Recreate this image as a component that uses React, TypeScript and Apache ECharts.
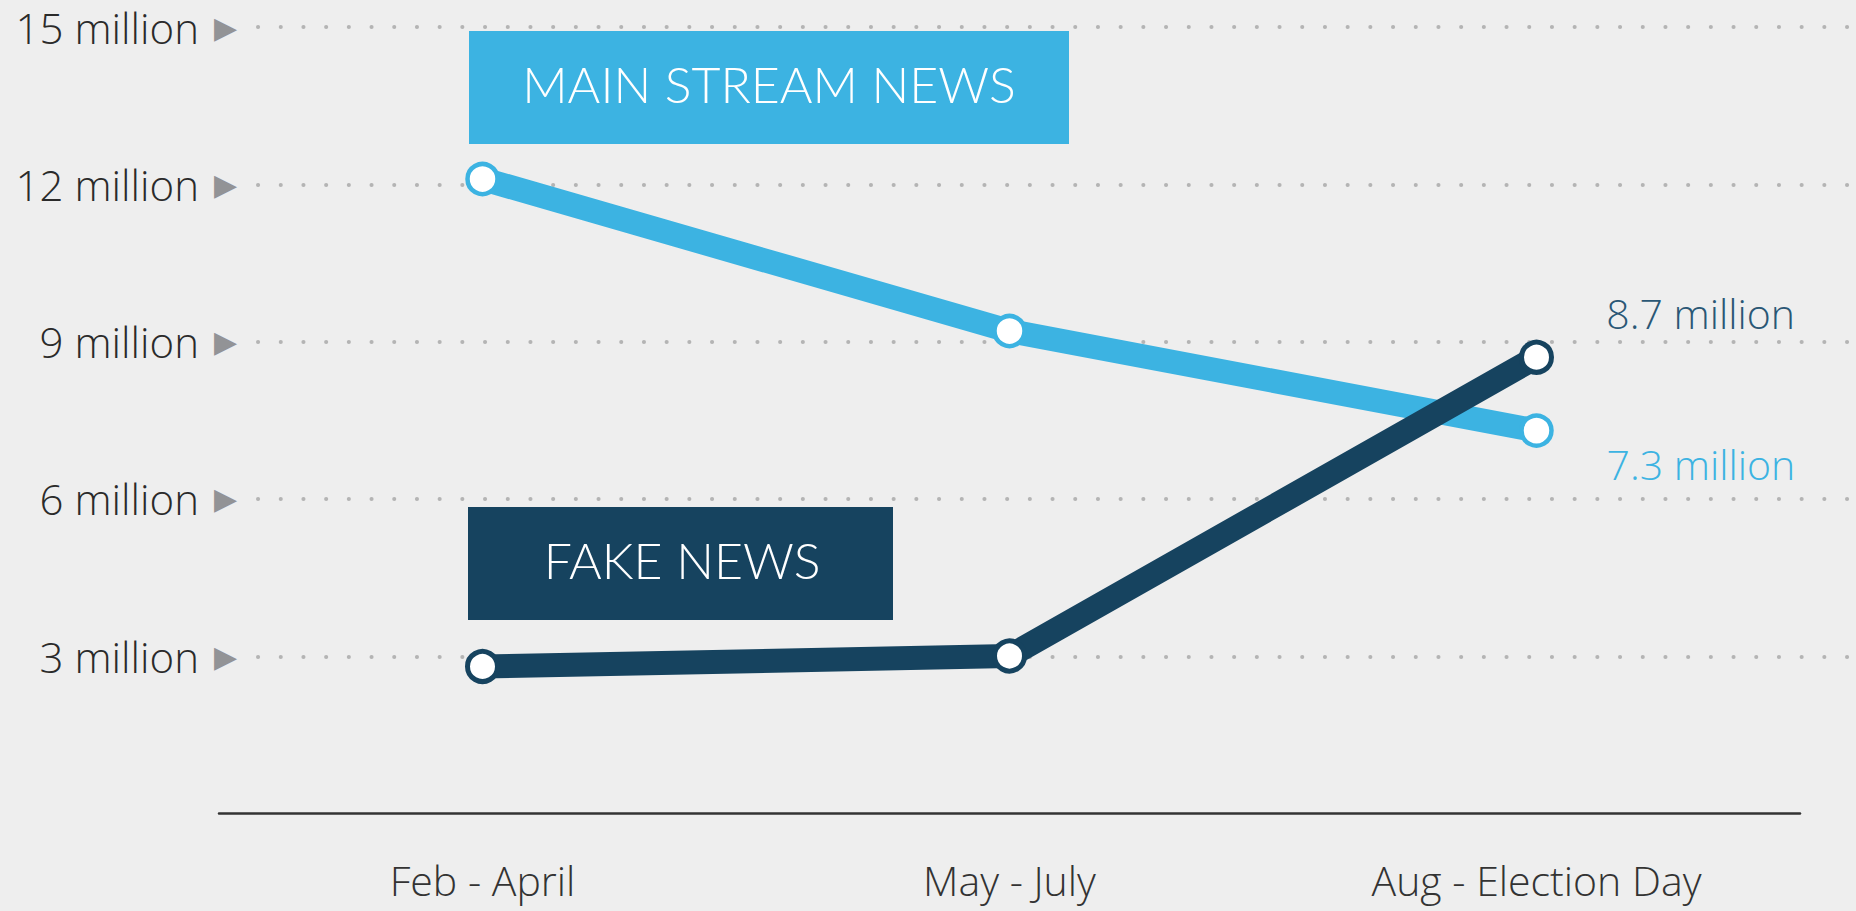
import React, { useEffect, useRef } from "react";
import * as echarts from "echarts";

const categories = ["Feb - April", "May - July", "Aug - Election Day"];
const mainstream = [12.1, 9.2, 7.3];
const fake = [2.8, 3.0, 8.7];
const yMin = 3;
const yMax = 15;
const yStep = 3;

const LIGHT = "#3cb3e2";
const DARK = "#16435f";
const FONT = "'Open Sans', Lato, sans-serif";
const BOXFONT = "Lato, 'Open Sans', sans-serif";

export default function App() {
  const ref = useRef<HTMLDivElement>(null);
  useEffect(() => {
    if (!ref.current) return;
    const chart = echarts.init(ref.current, null, { renderer: "svg" });
    const lastIdx = categories.length - 1;
    const mkData = (vals: number[], labelOpt: any) =>
      vals.map((v, i) =>
        i === lastIdx ? { value: v, label: { show: true, ...labelOpt } } : v
      );
    chart.setOption({
      animation: false,
      backgroundColor: "#eeeeee",
      textStyle: { fontFamily: FONT },
      grid: [
        { left: 258, right: 0, top: 27, bottom: 254.75 },
        { left: 219, right: 56, top: 27, bottom: 97.75 },
      ],
      xAxis: [
        { gridIndex: 0, type: "value", show: false },
        {
          gridIndex: 1,
          type: "category",
          data: categories,
          boundaryGap: true,
          axisLine: { show: true, lineStyle: { color: "#333333", width: 2.5 } },
          axisTick: { show: false },
          axisLabel: {
            margin: 47,
            color: "#333333",
            fontSize: 41,
            lineHeight: 40,
            fontWeight: 300,
            fontFamily: FONT,
          },
        },
      ],
      yAxis: [
        {
          gridIndex: 0,
          type: "value",
          min: yMin,
          max: yMax,
          interval: yStep,
          axisLine: { show: false },
          axisTick: { show: false },
          splitLine: {
            show: true,
            lineStyle: { color: "#b4b4b4", width: 4, type: [0.1, 22.6], cap: "round" },
          },
          axisLabel: {
            margin: 21,
            formatter: (v: number) => `{v|${v} million}{t|▶}`,
            rich: {
              v: { fontSize: 42, fontWeight: 300, color: "#2a2a2a", fontFamily: FONT },
              t: {
                fontSize: 30,
                color: "#929396",
                fontFamily: "DejaVu Sans",
                padding: [0, 0, 0, 15],
              },
            },
          },
        },
        {
          gridIndex: 1,
          type: "value",
          min: 0,
          max: yMax,
          interval: yStep,
          show: false,
          splitLine: { show: false },
        },
      ],
      series: [
        {
          type: "line",
          xAxisIndex: 1,
          yAxisIndex: 1,
          data: mkData(mainstream, {
            position: [276, 51],
            align: "right",
            verticalAlign: "middle",
            formatter: "{c} million",
            color: LIGHT,
            fontSize: 41,
            fontWeight: 300,
            fontFamily: FONT,
          }),
          symbol: "circle",
          symbolSize: 30,
          lineStyle: { color: LIGHT, width: 24 },
          itemStyle: { color: "#ffffff", borderColor: LIGHT, borderWidth: 4.5 },
          label: { show: false },
          z: 2,
        },
        {
          type: "line",
          xAxisIndex: 1,
          yAxisIndex: 1,
          data: mkData(fake, {
            position: [276, -27],
            align: "right",
            verticalAlign: "middle",
            formatter: "{c} million",
            color: "#2a5775",
            fontSize: 41,
            fontWeight: 300,
            fontFamily: FONT,
          }),
          symbol: "circle",
          symbolSize: 30,
          lineStyle: { color: DARK, width: 24 },
          itemStyle: { color: "#ffffff", borderColor: DARK, borderWidth: 5 },
          label: { show: false },
          z: 3,
        },
      ],
      graphic: [
        {
          type: "rect",
          shape: { x: 469, y: 31, width: 600, height: 113 },
          style: { fill: LIGHT },
          z: 10,
        },
        {
          type: "text",
          x: 769,
          y: 84,
          style: {
            text: "MAIN STREAM NEWS",
            fill: "#ffffff",
            fontSize: 50,
            fontWeight: 300,
            fontFamily: BOXFONT,
            align: "center",
            verticalAlign: "middle",
          },
          z: 11,
        },
        {
          type: "rect",
          shape: { x: 468, y: 507, width: 425, height: 113 },
          style: { fill: DARK },
          z: 10,
        },
        {
          type: "text",
          x: 682,
          y: 560,
          style: {
            text: "FAKE NEWS",
            fill: "#ffffff",
            fontSize: 50,
            fontWeight: 300,
            fontFamily: BOXFONT,
            align: "center",
            verticalAlign: "middle",
          },
          z: 11,
        },
      ],
    });
    return () => chart.dispose();
  }, []);
  return (
    <div
      ref={ref}
      style={{
        position: "fixed",
        left: 0,
        top: 0,
        width: 1856,
        height: 911,
        background: "#eeeeee",
      }}
    />
  );
}
